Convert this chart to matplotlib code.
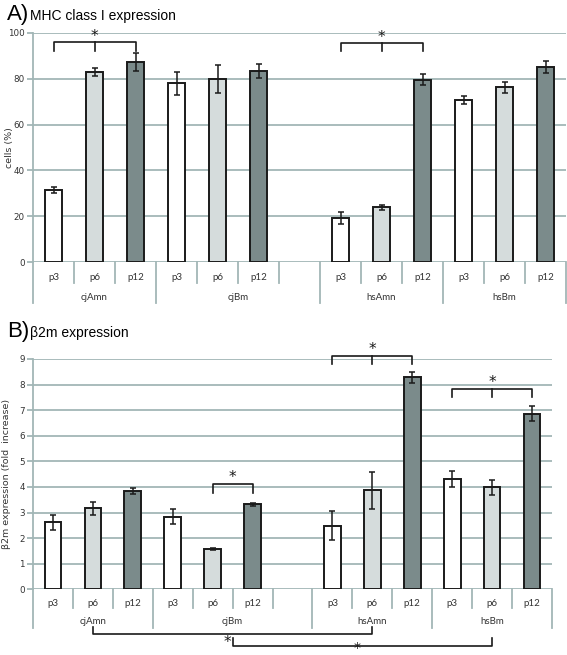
import matplotlib
matplotlib.use('Agg')
import matplotlib.pyplot as plt
from matplotlib.transforms import blended_transform_factory

# MHC class I expression (% cells)
mhc_vals = [31.3, 83.1, 87.3, 78.0, 79.9, 83.5, 19.3, 23.9, 79.5, 70.9, 76.3, 85.3]
mhc_errs = [1.3, 1.8, 4.1, 5.0, 6.1, 3.1, 2.5, 1.0, 2.4, 1.8, 2.4, 2.6]

# beta2m expression (fold increase)
b2m_vals = [2.62, 3.16, 3.85, 2.84, 1.57, 3.32, 2.49, 3.87, 8.28, 4.31, 3.98, 6.87]
b2m_errs = [0.29, 0.24, 0.12, 0.28, 0.03, 0.07, 0.57, 0.73, 0.20, 0.33, 0.28, 0.29]

passages = ['p3', 'p6', 'p12', 'p3', 'p6', 'p12', '', 'p3', 'p6', 'p12', 'p3', 'p6', 'p12']
groups = ['cjAmn', 'cjBm', 'hsAmn', 'hsBm']
group_bounds = [(0, 3), (3, 7), (7, 10), (10, 13)]

# slots 0..12, slot 6 is empty
slots = [0, 1, 2, 3, 4, 5, 7, 8, 9, 10, 11, 12]
fills = ['white', '#d5dcdc', '#7b8b8b'] * 4

GRID = '#a2b6b6'
TXT = '#333333'
W, H = 567, 655

fig = plt.figure(figsize=(W / 100, H / 100), dpi=100)


def make_axes(left, right, top, bottom):
    return fig.add_axes([left / W, 1 - bottom / H, (right - left) / W, (bottom - top) / H])


def draw_panel(ax, vals, errs, ymax, step, ylabel, ylab_x, h_px, tick_off, short_len, grp_off, long_len):
    xs = [s + 0.5 for s in slots]
    ax.bar(xs, vals, width=0.42, color=fills, edgecolor='#1a1a1a', linewidth=1.4, zorder=3)
    ax.errorbar(xs, vals, yerr=errs, fmt='none', ecolor='#1a1a1a', elinewidth=1.1,
                capsize=2.3, capthick=1.1, zorder=4)
    ax.set_xlim(0, 13)
    ax.set_ylim(0, ymax)
    ax.set_yticks(range(0, ymax + 1, step))
    ax.yaxis.grid(True, color=GRID, linewidth=1.3, zorder=0)
    ax.set_axisbelow(True)
    for s in ['top', 'right', 'bottom']:
        ax.spines[s].set_visible(False)
    ax.spines['left'].set_color(GRID)
    ax.spines['left'].set_linewidth(1.3)
    ax.tick_params(axis='y', colors=GRID, length=4, width=1.3, labelsize=6.3,
                   labelcolor=TXT, pad=2)
    ax.set_xticks([])
    ax.set_ylabel(ylabel, fontsize=6.8, color=TXT)
    ax.yaxis.set_label_coords(ylab_x, 0.5)

    tr = blended_transform_factory(ax.transData, ax.transAxes)
    long_ticks = [b[0] for b in group_bounds] + [13]
    for k in range(14):
        ln = long_len if k in long_ticks else short_len
        ax.plot([k, k], [0, -ln / h_px], transform=tr, color=GRID, lw=1.3, clip_on=False)
    for s, lab in enumerate(passages):
        ax.text(s + 0.5, -tick_off / h_px, lab, transform=tr, ha='center', va='center',
                fontsize=7, color=TXT, family='Lato')
    for (a, b), g in zip(group_bounds, groups):
        ax.text((a + b) / 2, -grp_off / h_px, g, transform=tr, ha='center', va='center',
                fontsize=7, color=TXT, family='Lato')
    return tr


def bracket(ax, x0, x1, y_top, y_bot, mid=True, star_y=None):
    kw = dict(color='#1a1a1a', lw=1.2, clip_on=False, zorder=5)
    ax.plot([x0, x0, x1, x1], [y_bot, y_top, y_top, y_bot], **kw)
    xm = (x0 + x1) / 2
    if mid:
        ax.plot([xm, xm], [y_top, y_bot], **kw)
    ax.text(xm, star_y, '*', ha='center', va='center', fontsize=11, color='#1a1a1a')


# ---- Panel A ----
axA = make_axes(33, 566, 33, 262)
draw_panel(axA, mhc_vals, mhc_errs, 100, 20, 'cells (%)', -19 / 533, 229, 15, 21, 35, 41)
bracket(axA, 0.5, 2.5, 96.0, 92.3, star_y=98.5)
bracket(axA, 7.5, 9.5, 95.5, 92.0, star_y=98.0)
fig.text(7 / W, 1 - 20 / H, 'A)', fontsize=16, family='Liberation Sans', va='baseline')
fig.text(30 / W, 1 - 20 / H, 'MHC class I expression', fontsize=10,
         family='Liberation Sans', va='baseline')

# ---- Panel B ----
axB = make_axes(33, 552, 359, 589.3)
trB = draw_panel(axB, b2m_vals, b2m_errs, 9, 1, '\u03b22m expression (fold  increase)',
                 -22 / 519, 230.3, 14, 19, 32, 39)
bracket(axB, 4.5, 5.5, 4.10, 3.75, mid=False, star_y=4.35)
bracket(axB, 7.5, 9.5, 9.11, 8.79, star_y=9.36)
bracket(axB, 10.5, 12.5, 7.84, 7.52, star_y=8.09)

hB = 230.3
kw = dict(color='#1a1a1a', lw=1.2, clip_on=False, transform=trB)
axB.plot([1.5, 1.5, 8.5, 8.5], [-37.7 / hB, -44.7 / hB, -44.7 / hB, -37.7 / hB], **kw)
axB.plot([5.0, 5.0, 11.5, 11.5], [-48.4 / hB, -56.7 / hB, -56.7 / hB, -48.4 / hB], **kw)
axB.text(4.86, -53.5 / hB, '*', transform=trB, ha='center', va='center', fontsize=11,
         color='#1a1a1a')
axB.text(8.12, -58.5 / hB, '*', transform=trB, ha='center', va='center', fontsize=10,
         color='#1a1a1a')
fig.text(7 / W, 1 - 337 / H, 'B)', fontsize=16, family='Liberation Sans', va='baseline')
fig.text(30 / W, 1 - 337 / H, '\u03b22m expression', fontsize=10,
         family='Liberation Sans', va='baseline')

fig.savefig('out.png', dpi=100)
